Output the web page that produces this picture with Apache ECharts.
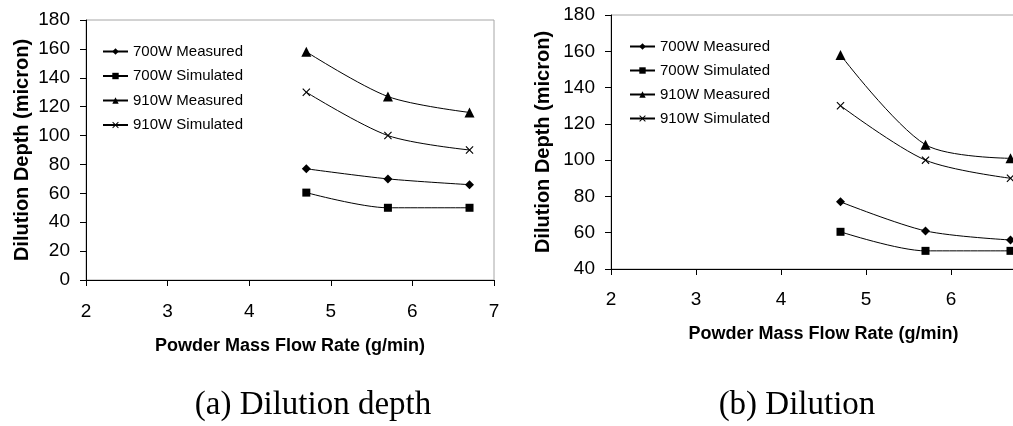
<!DOCTYPE html>
<html>
<head>
<meta charset="utf-8">
<script src="https://cdn.jsdelivr.net/npm/echarts@6/dist/echarts.min.js"></script>
<style>
html,body{margin:0;padding:0;background:#fff;overflow:hidden;width:1013px;height:426px;}
#chart{width:1045px;height:426px;}
</style>
</head>
<body>
<div id="chart"></div>
<script>
// ---- data ----
const seriesNames = ['700W Measured', '700W Simulated', '910W Measured', '910W Simulated'];
const flowRates = [4.7, 5.7, 6.7];
const xTicks = [2, 3, 4, 5, 6, 7];
// (a) Dilution depth
const depth700Measured = [77, 70, 66];
const depth700Simulated = [60.5, 50, 50];
const depth910Measured = [158, 127, 116];
const depth910Simulated = [130, 100, 90];
// (b) Dilution
const dil700Measured = [77, 61, 56];
const dil700Simulated = [60.5, 50, 50];
const dil910Measured = [158, 108.5, 101];
const dil910Simulated = [130, 100, 90];

const captions = ['(a) Dilution depth', '(b) Dilution'];
const xTitle = 'Powder Mass Flow Rate (g/min)';
const yTitle = 'Dilution Depth (micron)';

// ---- styling ----
const FONT = 'Liberation Sans, Arial, sans-serif';
const crossPath = 'path://M0,1L1,0L5,4L9,0L10,1L6,5L10,9L9,10L5,6L1,10L0,9L4,5Z';
const symbols = ['diamond', 'rect', 'triangle', crossPath];
const symbolSizes = [9, 8, 10, 8];

function pairs(ys) { return flowRates.map((x, i) => [x, ys[i]]); }

function makeSeries(idx, sets) {
  return sets.map((ys, k) => ({
    name: seriesNames[k],
    type: 'line',
    xAxisIndex: idx,
    yAxisIndex: idx,
    data: pairs(ys),
    smooth: 0.3,
    symbol: symbols[k],
    symbolSize: symbolSizes[k],
    showSymbol: true,
    color: '#000',
    lineStyle: { color: '#000', width: 1 },
    itemStyle: { color: '#000' },
    emphasis: { disabled: true },
    z: 5
  }));
}

function xAxis(gridIdx, gap, margin) {
  return {
    type: 'value', gridIndex: gridIdx, min: xTicks[0], max: xTicks[xTicks.length - 1], interval: 1,
    name: xTitle, nameLocation: 'middle', nameGap: gap,
    nameTextStyle: { fontFamily: FONT, fontWeight: 'bold', fontSize: 18, color: '#000' },
    axisLine: { show: true, lineStyle: { color: '#000', width: 1 } },
    axisTick: { show: true, inside: false, length: 6, lineStyle: { color: '#000' } },
    axisLabel: { fontFamily: FONT, fontSize: 19, color: '#000', margin: margin },
    splitLine: { show: false }
  };
}

function yAxis(gridIdx, min, gap, margin) {
  return {
    type: 'value', gridIndex: gridIdx, min: min, max: 180, interval: 20,
    name: yTitle, nameLocation: 'middle', nameGap: gap, nameRotate: 90,
    nameTextStyle: { fontFamily: FONT, fontWeight: 'bold', fontSize: 20, color: '#000' },
    axisLine: { show: true, lineStyle: { color: '#000', width: 1 } },
    axisTick: { show: true, inside: false, length: 6, lineStyle: { color: '#000' } },
    axisLabel: { fontFamily: FONT, fontSize: 19, color: '#000', margin: margin },
    splitLine: { show: false }
  };
}

function legend(left, top, gap) {
  return {
    orient: 'vertical', left: left, top: top, itemGap: gap, padding: 0,
    itemWidth: 25, itemHeight: 8, selectedMode: false,
    data: seriesNames,
    textStyle: { fontFamily: FONT, fontSize: 15, color: '#000' }
  };
}

const chart = echarts.init(document.getElementById('chart'), null, { renderer: 'canvas' });
chart.setOption({
  animation: false,
  backgroundColor: '#fff',
  grid: [
    { left: 86, top: 20, width: 408, height: 260, show: true, borderColor: '#a6a6a6', borderWidth: 1, containLabel: false },
    { left: 611, top: 15, width: 425, height: 254, show: true, borderColor: '#a6a6a6', borderWidth: 1, containLabel: false }
  ],
  xAxis: [xAxis(0, 57, 22), xAxis(1, 56, 21)],
  yAxis: [yAxis(0, 0, 54, 16), yAxis(1, 40, 58, 16)],
  legend: [legend(102, 44, 9.5), legend(629, 39, 9)],
  series: [].concat(
    makeSeries(0, [depth700Measured, depth700Simulated, depth910Measured, depth910Simulated]),
    makeSeries(1, [dil700Measured, dil700Simulated, dil910Measured, dil910Simulated])
  ),
  graphic: [
    { type: 'text', x: 313, y: 405, style: { text: captions[0], font: '33px "Liberation Serif", "Times New Roman", serif', fill: '#000', align: 'center', verticalAlign: 'middle' } },
    { type: 'text', x: 797, y: 405, style: { text: captions[1], font: '33px "Liberation Serif", "Times New Roman", serif', fill: '#000', align: 'center', verticalAlign: 'middle' } }
  ]
});
</script>
</body>
</html>
